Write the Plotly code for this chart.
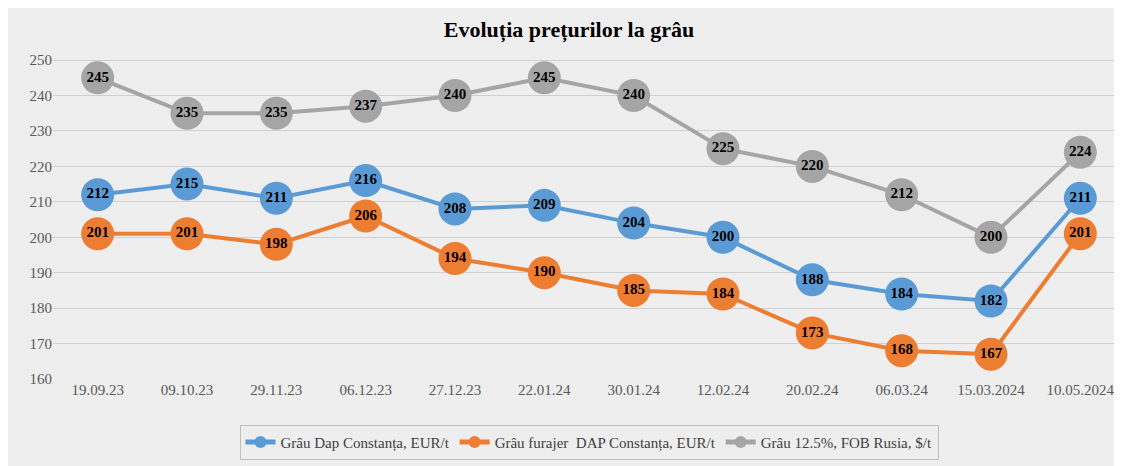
import plotly.graph_objects as go

# --- Data ---
dates = ["19.09.23", "09.10.23", "29.11.23", "06.12.23", "27.12.23", "22.01.24",
         "30.01.24", "12.02.24", "20.02.24", "06.03.24", "15.03.2024", "10.05.2024"]
grau_dap = [212, 215, 211, 216, 208, 209, 204, 200, 188, 184, 182, 211]
grau_furajer = [201, 201, 198, 206, 194, 190, 185, 184, 173, 168, 167, 201]
grau_fob = [245, 235, 235, 237, 240, 245, 240, 225, 220, 212, 200, 224]

series = [
    ("Grâu Dap Constanța, EUR/t", grau_dap, "#5B9BD5"),
    ("Grâu furajer  DAP Constanța, EUR/t", grau_furajer, "#ED7D31"),
    ("Grâu 12.5%, FOB Rusia, $/t", grau_fob, "#A5A5A5"),
]

fig = go.Figure()
for name, vals, color in series:
    fig.add_trace(go.Scatter(
        x=dates, y=vals, name=name, mode="lines+markers+text",
        text=[f"<b>{v}</b>" for v in vals], textposition="middle center",
        textfont=dict(family="Liberation Serif", size=15, color="black"),
        line=dict(color=color, width=4),
        marker=dict(size=33, color=color),
    ))

fig.update_layout(
    width=1122, height=466,
    title=dict(text="<b>Evoluția prețurilor la grâu</b>", x=0.5, y=0.97,
               font=dict(family="Liberation Serif", size=22, color="black")),
    paper_bgcolor="#eeeeee", plot_bgcolor="rgba(0,0,0,0)",
    font=dict(family="Liberation Serif", size=15, color="#595959"),
    margin=dict(t=45, l=45, r=5, b=95),
    showlegend=True,
    legend=dict(orientation="h", x=0.5, xanchor="center", y=-0.14, yanchor="top",
                bordercolor="#bfbfbf", borderwidth=1, bgcolor="rgba(0,0,0,0)",
                font=dict(size=15, color="#404040"), itemsizing="constant"),
)
fig.update_xaxes(showgrid=False, showline=False, ticks="", range=[-0.5, 11.5])
fig.update_yaxes(range=[160, 252], dtick=10, gridcolor="#d0d0d0", zeroline=False,
                 showline=False, ticks="")

fig.write_html("out.html")
